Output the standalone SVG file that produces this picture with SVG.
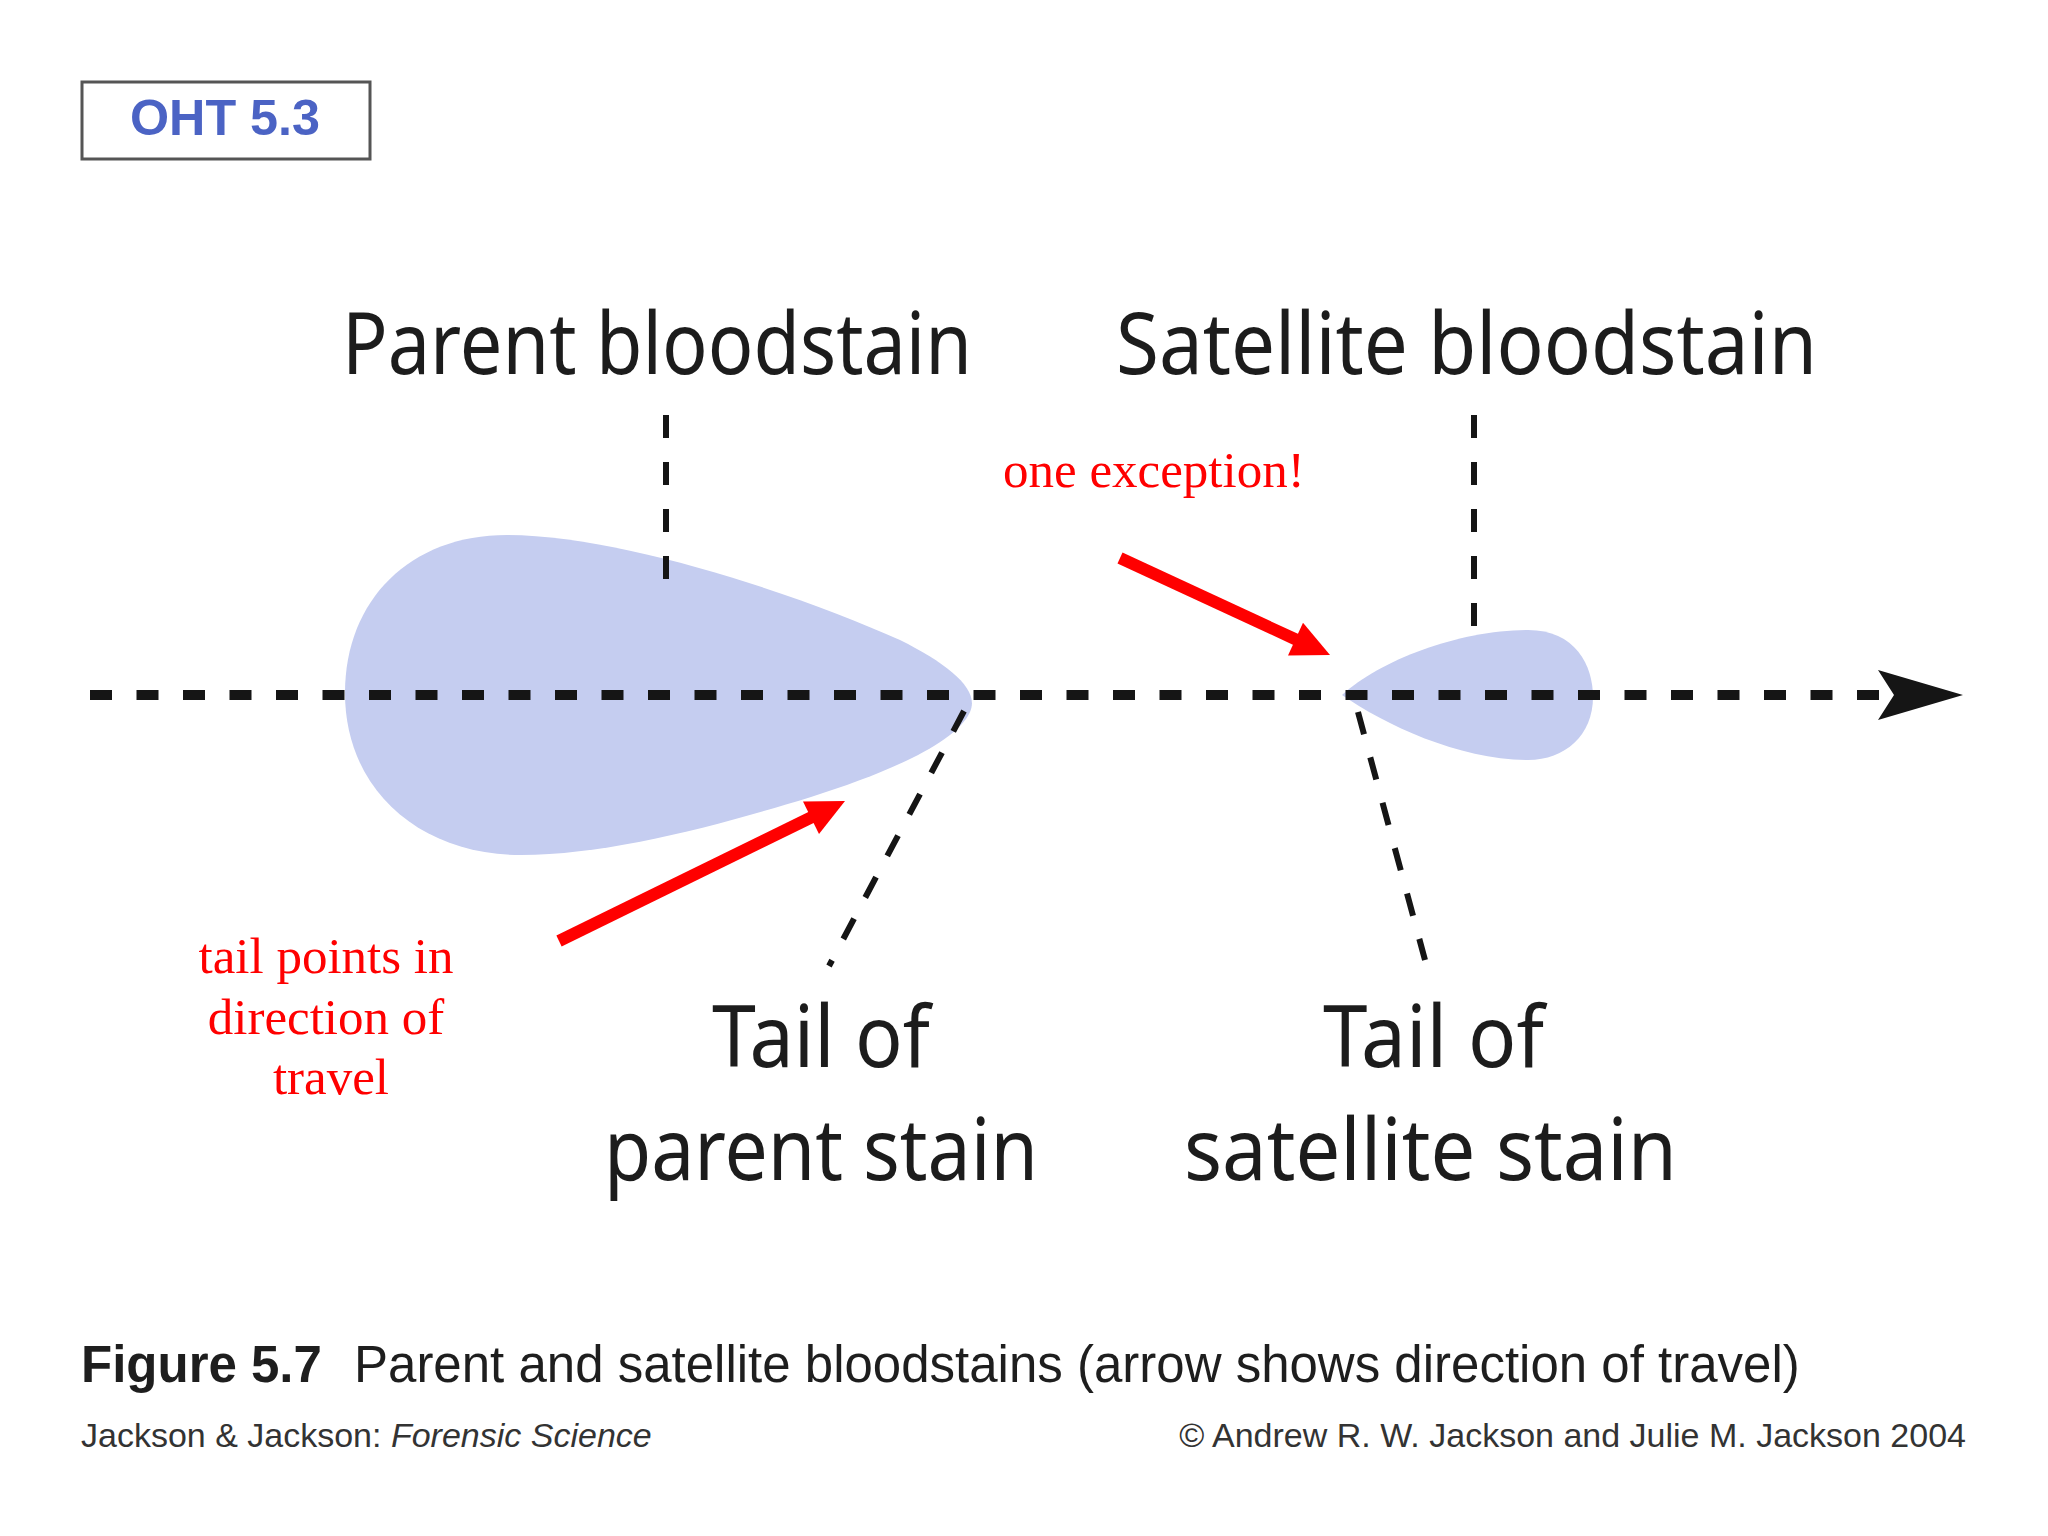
<svg xmlns="http://www.w3.org/2000/svg" width="2048" height="1536" viewBox="0 0 2048 1536">
<defs>
<style>
.lbl{font-family:"Noto Sans","DejaVu Sans",sans-serif;font-size:86px;fill:#1c1c1c}
.red{font-family:"Liberation Serif","Times New Roman",serif;font-size:51px;fill:#ff0000}
.cap{font-family:"Liberation Sans",Arial,sans-serif;font-size:51px;fill:#1e1e1e}
.foot{font-family:"Liberation Sans",Arial,sans-serif;font-size:34px;fill:#333333}
.stain{fill:#c5cdf0;stroke:none}
.lead{stroke:#151515;stroke-width:6;fill:none;stroke-dasharray:23 24}
.axis{stroke:#151515;stroke-width:10;fill:none;stroke-dasharray:22 24.5}
.redshaft{stroke:#ff0000;stroke-width:12;fill:none}
.redhead{fill:#ff0000}
</style>
</defs>
<rect width="2048" height="1536" fill="#ffffff"/>

<g id="oht-label">
<rect x="82" y="82" width="288" height="77" fill="#ffffff" stroke="#555555" stroke-width="3"/>
<text x="130" y="135" font-family="Liberation Sans, Arial, sans-serif" font-weight="bold" font-size="50" fill="#4b63c4" textLength="190" lengthAdjust="spacingAndGlyphs">OHT 5.3</text>
</g>

<g id="parent-stain">
<path class="stain" d="M 507 535 C 620 535, 800 595, 900 640 C 950 665, 980 690, 970 712 C 955 745, 880 775, 811 797 C 720 825, 610 855, 521 855 C 420 855, 345 790, 345 693 C 345 600, 410 535, 507 535 Z"/>
</g>

<g id="satellite-stain">
<path class="stain" d="M 1342 695 C 1380 660, 1460 630, 1528 630 C 1575 630, 1593 665, 1593 697 C 1593 735, 1565 760, 1528 760 C 1460 760, 1385 725, 1342 695 Z"/>
</g>

<g id="connectors">
<line class="axis" x1="90" y1="695" x2="1895" y2="695"/>
<path d="M 1963 695 L 1878 670 L 1894 695 L 1878 720 Z" fill="#151515"/>
<line class="lead" x1="666" y1="415" x2="666" y2="579"/>
<line class="lead" x1="1474" y1="415" x2="1474" y2="627"/>
<line class="lead" x1="964" y1="711" x2="829" y2="966"/>
<line class="lead" x1="1358" y1="712" x2="1425" y2="960"/>
</g>

<g id="annotation-arrows">
<line class="redshaft" x1="559" y1="941" x2="812" y2="817"/>
<polygon class="redhead" points="845,801 803,801.5 819,834"/>
<line class="redshaft" x1="1120" y1="558" x2="1297" y2="640"/>
<polygon class="redhead" points="1330,655 1288,655.5 1303,622.8"/>
</g>

<g id="label-parent-bloodstain">
<text class="lbl" x="342" y="374" textLength="630" lengthAdjust="spacingAndGlyphs">Parent bloodstain</text>
</g>
<g id="label-satellite-bloodstain">
<text class="lbl" x="1116" y="374" textLength="701" lengthAdjust="spacingAndGlyphs">Satellite bloodstain</text>
</g>
<g id="label-tail-parent">
<text class="lbl" x="712" y="1067" textLength="218" lengthAdjust="spacingAndGlyphs">Tail of</text>
<text class="lbl" x="604" y="1180" textLength="434" lengthAdjust="spacingAndGlyphs">parent stain</text>
</g>
<g id="label-tail-satellite">
<text class="lbl" x="1323" y="1067" textLength="221" lengthAdjust="spacingAndGlyphs">Tail of</text>
<text class="lbl" x="1184" y="1180" textLength="493" lengthAdjust="spacingAndGlyphs">satellite stain</text>
</g>

<g id="note-exception">
<text class="red" x="1003" y="487">one exception!</text>
</g>
<g id="note-tail">
<text class="red" text-anchor="middle" x="326" y="973">tail points in</text>
<text class="red" text-anchor="middle" x="326" y="1034">direction of</text>
<text class="red" text-anchor="middle" x="331" y="1094">travel</text>
</g>

<g id="caption">
<text class="cap" x="81" y="1382" font-weight="bold">Figure 5.7</text>
<text class="cap" x="354" y="1382">Parent and satellite bloodstains (arrow shows direction of travel)</text>
<text class="foot" x="81" y="1447">Jackson &amp; Jackson: <tspan font-style="italic">Forensic Science</tspan></text>
<text class="foot" x="1966" y="1447" text-anchor="end">© Andrew R. W. Jackson and Julie M. Jackson 2004</text>
</g>
</svg>
